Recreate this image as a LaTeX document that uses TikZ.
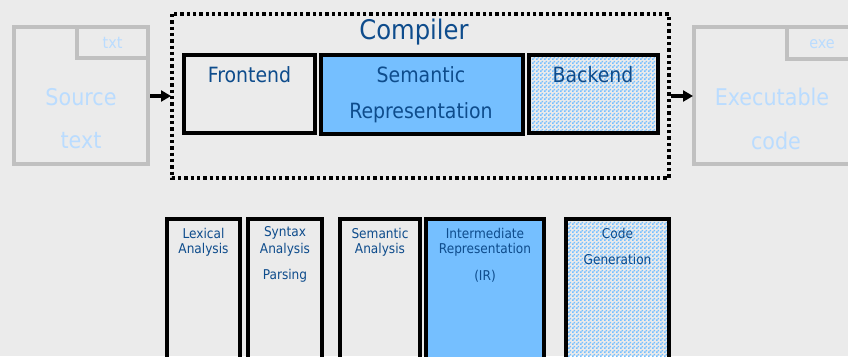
\documentclass[tikz,border=0pt]{standalone}
\usepackage{fontspec}
\setmainfont{DejaVu Sans Condensed}
\usetikzlibrary{patterns.meta,arrows.meta}
\definecolor{bg}{HTML}{EBEBEB}
\definecolor{docgray}{HTML}{C0C0C0}
\definecolor{doctext}{HTML}{BADCFF}
\definecolor{dark}{HTML}{0E4C8C}
\definecolor{fillblue}{HTML}{75BFFF}
\pgfdeclarepattern{name=mychk, type=uncolored,
  bottom left={\pgfpointorigin}, top right={\pgfpoint{4pt}{4pt}},
  tile size={\pgfpoint{4pt}{4pt}},
  code={\pgfpathrectangle{\pgfpointorigin}{\pgfpoint{2pt}{2pt}}%
        \pgfpathrectangle{\pgfpoint{2pt}{2pt}}{\pgfpoint{2pt}{2pt}}%
        \pgfusepath{fill}}}
\tikzset{
  doc/.style={draw=docgray, line width=3.5pt},
  docbig/.style={text=doctext, font=\fontsize{23}{23}\selectfont, inner sep=0pt},
  docsmall/.style={text=doctext, font=\fontsize{16}{16}\selectfont, inner sep=0pt},
  stage/.style={draw=black, line width=3.5pt},
  bigtxt/.style={text=dark, font=\fontsize{21}{21}\selectfont, inner sep=0pt},
  smalltxt/.style={text=dark, font=\fontsize{13.5}{13.5}\selectfont, inner sep=0pt},
  flow/.style={line width=3.5pt, -{Triangle[length=10pt,width=11pt]}},
  chk/.style={fill=white, pattern={mychk}, pattern color=fillblue}
}
\begin{document}
\begin{tikzpicture}[x=1pt,y=-1pt]
\fill[bg] (0,0) rectangle (848,356);
\useasboundingbox (0,0) rectangle (848,356);
% source doc
\draw[doc] (14,27) rectangle (148,164);
\draw[doc] (77,27) rectangle (148,58);
\node[docsmall] (txt) at (112.5,43) {txt};
\node[docbig] (src1) at (81,97) {Source};
\node[docbig] (src2) at (81,141) {text};
\coordinate (srcr) at (150,96);
% compiler dotted box
\draw[line width=3.5pt, dash pattern=on 3.3pt off 3pt] (172,14) rectangle (669,178);
\coordinate (compl) at (171,96);
\coordinate (compr) at (670.5,96);
\node[text=dark, font=\fontsize{27}{27}\selectfont, inner sep=0pt] (comp) at (414,32) {Compiler};
% stages
\draw[stage] (184,55) rectangle (315,133);
\node[bigtxt] (fe) at (249.5,75) {Frontend};
\draw[stage, fill=fillblue] (321,55) rectangle (523,134);
\node[bigtxt] (sr1) at (421,75) {Semantic};
\node[bigtxt] (sr2) at (421,113) {Representation};
\draw[stage, chk] (529,55) rectangle (658,133);
\node[bigtxt] (be) at (593,75) {Backend};
% exe doc
\draw[doc] (694,27) rectangle (860,164);
\draw[doc] (787,27) rectangle (860,59);
\node[docsmall] (exe) at (822,44) {exe};
\node[docbig] (ex1) at (772,97) {Executable};
\node[docbig] (ex2) at (776,141) {code};
\coordinate (exel) at (693,96);
% arrows
\draw[flow] (srcr) -- (compl);
\draw[flow] (compr) -- (exel);
% bottom phases
\draw[stage] (167,219) rectangle (240,370);
\node[smalltxt] (lex1) at (203.5,233) {Lexical};
\node[smalltxt] (lex2) at (203.5,250) {Analysis};
\draw[stage] (248,219) rectangle (322,370);
\node[smalltxt] (syn1) at (285,233) {Syntax};
\node[smalltxt] (syn2) at (285,250) {Analysis};
\node[smalltxt] (par) at (285,276) {Parsing};
\draw[stage] (340,219) rectangle (420,370);
\node[smalltxt] (sem1) at (380,233) {Semantic};
\node[smalltxt] (sem2) at (380,250) {Analysis};
\draw[stage, fill=fillblue] (426,219) rectangle (544,370);
\node[smalltxt] (ir1) at (485,233) {Intermediate};
\node[smalltxt] (ir2) at (485,250) {Representation};
\node[smalltxt] (ir3) at (485,276) {(IR)};
\draw[stage, chk] (566,219) rectangle (669,370);
\node[smalltxt] (cg1) at (617.5,233) {Code};
\node[smalltxt] (cg2) at (617.5,259) {Generation};
\end{tikzpicture}
\end{document}
